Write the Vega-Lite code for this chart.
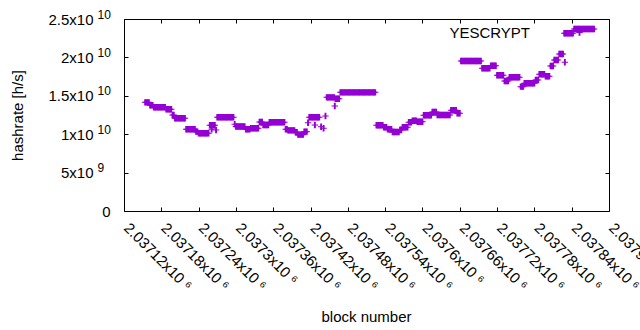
{
 "$schema": "https://vega.github.io/schema/vega-lite/v6.json",
 "width": 485, "height": 192,
 "autosize": {"type": "none"},
 "padding": {"left": 124, "top": 19, "right": 31, "bottom": 119},
 "background": "white",
 "config": {
  "view": {"stroke": "black", "strokeWidth": 1},
  "font": "Liberation Sans",
  "axis": {"domain": false, "grid": false, "tickColor": "black", "tickSize": -4, "tickWidth": 1, "labelColor": "black", "labelFont": "Liberation Sans", "labelFontSize": 15, "titleFont": "Liberation Sans", "titleFontSize": 15, "titleFontWeight": "normal", "titleColor": "black"}
 },
 "data": {"values": "b,h\n2037154,1.415e10\n2037156,1.415e10\n2037158,1.415e10\n2037160,1.415e10\n2037162,1.376e10\n2037164,1.376e10\n2037166,1.376e10\n2037168,1.35e10\n2037170,1.35e10\n2037172,1.35e10\n2037174,1.35e10\n2037176,1.35e10\n2037178,1.35e10\n2037180,1.35e10\n2037182,1.35e10\n2037184,1.35e10\n2037186,1.35e10\n2037188,1.324e10\n2037190,1.324e10\n2037192,1.324e10\n2037194,1.324e10\n2037196,1.324e10\n2037198,1.25e10\n2037200,1.25e10\n2037202,1.207e10\n2037204,1.207e10\n2037206,1.207e10\n2037208,1.207e10\n2037210,1.207e10\n2037212,1.207e10\n2037214,1.207e10\n2037216,1.207e10\n2037218,1.207e10\n2037220,1.064e10\n2037222,1.064e10\n2037224,1.064e10\n2037226,1.064e10\n2037228,1.064e10\n2037230,1.064e10\n2037232,1.064e10\n2037234,1.064e10\n2037236,1.033e10\n2037238,1.033e10\n2037240,1.012e10\n2037242,1.012e10\n2037244,1.012e10\n2037246,1.012e10\n2037248,1.012e10\n2037250,1.012e10\n2037252,1.012e10\n2037254,1.012e10\n2037256,1.012e10\n2037258,1.116e10\n2037260,1.116e10\n2037261,1.064e10\n2037262,1.116e10\n2037264,1.116e10\n2037266,1.116e10\n2037268,1.055e10\n2037270,1.22e10\n2037272,1.22e10\n2037274,1.22e10\n2037276,1.22e10\n2037278,1.22e10\n2037280,1.22e10\n2037282,1.22e10\n2037284,1.22e10\n2037286,1.22e10\n2037288,1.22e10\n2037290,1.22e10\n2037292,1.22e10\n2037294,1.22e10\n2037296,1.22e10\n2037298,1.13e10\n2037300,1.1e10\n2037302,1.1e10\n2037304,1.1e10\n2037306,1.1e10\n2037308,1.1e10\n2037310,1.1e10\n2037312,1.1e10\n2037314,1.1e10\n2037316,1.064e10\n2037318,1.064e10\n2037320,1.064e10\n2037322,1.064e10\n2037324,1.077e10\n2037326,1.077e10\n2037328,1.077e10\n2037330,1.077e10\n2037332,1.077e10\n2037334,1.077e10\n2037336,1.077e10\n2037338,1.159e10\n2037340,1.159e10\n2037342,1.159e10\n2037344,1.12e10\n2037346,1.12e10\n2037348,1.12e10\n2037350,1.12e10\n2037352,1.12e10\n2037354,1.155e10\n2037356,1.155e10\n2037358,1.155e10\n2037360,1.155e10\n2037362,1.155e10\n2037364,1.155e10\n2037366,1.155e10\n2037368,1.155e10\n2037370,1.155e10\n2037372,1.155e10\n2037374,1.155e10\n2037376,1.155e10\n2037378,1.155e10\n2037380,1.064e10\n2037382,1.064e10\n2037384,1.05e10\n2037386,1.05e10\n2037388,1.05e10\n2037390,1.05e10\n2037392,1.05e10\n2037394,1.05e10\n2037396,1.025e10\n2037398,1.025e10\n2037400,9.94e9\n2037402,9.94e9\n2037404,9.94e9\n2037406,9.94e9\n2037408,9.94e9\n2037410,1.033e10\n2037412,1.033e10\n2037414,1.033e10\n2037416,1.15e10\n2037418,1.22e10\n2037420,1.22e10\n2037422,1.22e10\n2037424,1.22e10\n2037426,1.22e10\n2037427,1.12e10\n2037428,1.22e10\n2037430,1.22e10\n2037432,1.22e10\n2037434,1.22e10\n2037437,1.098e10\n2037441,1.077e10\n2037444,1.237e10\n2037446,1.48e10\n2037448,1.48e10\n2037450,1.48e10\n2037452,1.48e10\n2037454,1.48e10\n2037456,1.48e10\n2037458,1.48e10\n2037459,1.367e10\n2037460,1.462e10\n2037462,1.462e10\n2037464,1.462e10\n2037466,1.462e10\n2037468,1.545e10\n2037470,1.545e10\n2037472,1.545e10\n2037474,1.545e10\n2037476,1.545e10\n2037478,1.545e10\n2037480,1.545e10\n2037482,1.545e10\n2037484,1.545e10\n2037486,1.545e10\n2037488,1.545e10\n2037490,1.545e10\n2037492,1.545e10\n2037494,1.545e10\n2037496,1.545e10\n2037498,1.545e10\n2037500,1.545e10\n2037502,1.545e10\n2037504,1.545e10\n2037506,1.545e10\n2037508,1.545e10\n2037510,1.545e10\n2037512,1.545e10\n2037514,1.545e10\n2037516,1.545e10\n2037518,1.545e10\n2037520,1.545e10\n2037522,1.545e10\n2037524,1.545e10\n2037526,1.116e10\n2037528,1.116e10\n2037530,1.116e10\n2037532,1.116e10\n2037534,1.116e10\n2037536,1.116e10\n2037538,1.09e10\n2037540,1.09e10\n2037542,1.09e10\n2037544,1.064e10\n2037546,1.064e10\n2037548,1.064e10\n2037550,1.064e10\n2037552,1.029e10\n2037554,1.029e10\n2037556,1.029e10\n2037558,1.029e10\n2037560,1.029e10\n2037562,1.029e10\n2037564,1.055e10\n2037566,1.055e10\n2037568,1.09e10\n2037570,1.09e10\n2037572,1.09e10\n2037574,1.09e10\n2037576,1.09e10\n2037578,1.155e10\n2037580,1.155e10\n2037582,1.155e10\n2037584,1.176e10\n2037586,1.176e10\n2037588,1.176e10\n2037590,1.176e10\n2037592,1.163e10\n2037594,1.163e10\n2037596,1.163e10\n2037598,1.163e10\n2037600,1.163e10\n2037602,1.246e10\n2037604,1.246e10\n2037606,1.246e10\n2037608,1.246e10\n2037610,1.246e10\n2037612,1.246e10\n2037614,1.246e10\n2037616,1.289e10\n2037618,1.289e10\n2037620,1.289e10\n2037622,1.289e10\n2037624,1.25e10\n2037626,1.25e10\n2037628,1.25e10\n2037630,1.25e10\n2037632,1.25e10\n2037634,1.25e10\n2037636,1.25e10\n2037638,1.25e10\n2037640,1.25e10\n2037642,1.25e10\n2037644,1.25e10\n2037646,1.311e10\n2037648,1.311e10\n2037650,1.311e10\n2037652,1.311e10\n2037654,1.311e10\n2037656,1.272e10\n2037658,1.272e10\n2037660,1.272e10\n2037662,1.953e10\n2037664,1.953e10\n2037666,1.953e10\n2037668,1.953e10\n2037670,1.953e10\n2037672,1.953e10\n2037674,1.953e10\n2037676,1.953e10\n2037678,1.953e10\n2037680,1.953e10\n2037682,1.953e10\n2037684,1.953e10\n2037686,1.953e10\n2037688,1.953e10\n2037690,1.953e10\n2037692,1.953e10\n2037694,1.953e10\n2037696,1.858e10\n2037698,1.858e10\n2037700,1.858e10\n2037702,1.858e10\n2037704,1.858e10\n2037706,1.858e10\n2037708,1.858e10\n2037710,1.892e10\n2037712,1.892e10\n2037714,1.892e10\n2037716,1.892e10\n2037718,1.892e10\n2037720,1.767e10\n2037722,1.767e10\n2037724,1.767e10\n2037726,1.767e10\n2037728,1.767e10\n2037730,1.767e10\n2037732,1.693e10\n2037734,1.693e10\n2037736,1.693e10\n2037738,1.693e10\n2037740,1.741e10\n2037742,1.741e10\n2037744,1.741e10\n2037746,1.741e10\n2037748,1.741e10\n2037750,1.741e10\n2037752,1.741e10\n2037754,1.741e10\n2037756,1.741e10\n2037758,1.619e10\n2037760,1.619e10\n2037762,1.619e10\n2037764,1.663e10\n2037766,1.663e10\n2037768,1.663e10\n2037770,1.663e10\n2037772,1.663e10\n2037774,1.663e10\n2037776,1.663e10\n2037778,1.663e10\n2037780,1.663e10\n2037782,1.706e10\n2037784,1.706e10\n2037786,1.706e10\n2037788,1.78e10\n2037790,1.78e10\n2037792,1.78e10\n2037794,1.78e10\n2037796,1.78e10\n2037798,1.754e10\n2037800,1.754e10\n2037802,1.754e10\n2037804,1.754e10\n2037806,1.888e10\n2037808,1.888e10\n2037810,1.888e10\n2037812,1.966e10\n2037814,1.966e10\n2037816,1.966e10\n2037818,1.966e10\n2037820,2.044e10\n2037822,2.044e10\n2037824,2.044e10\n2037826,2.044e10\n2037828,2.314e10\n2037829,1.936e10\n2037830,2.314e10\n2037832,2.314e10\n2037834,2.314e10\n2037836,2.314e10\n2037838,2.314e10\n2037840,2.314e10\n2037842,2.314e10\n2037844,2.37e10\n2037846,2.37e10\n2037848,2.37e10\n2037850,2.37e10\n2037852,2.37e10\n2037854,2.37e10\n2037856,2.37e10\n2037858,2.37e10\n2037860,2.37e10\n2037862,2.37e10\n2037864,2.37e10\n2037866,2.37e10\n2037868,2.37e10\n2037870,2.37e10\n2037872,2.37e10\n2037874,2.37e10\n2037876,2.37e10", "format": {"type": "csv", "parse": {"b": "number", "h": "number"}}},
 "layer": [
  {
   "mark": {"type": "point", "shape": "M-1,-0.156H1V0.156H-1ZM-0.3,-1H0.3V1H-0.3Z", "filled": true, "size": 41, "opacity": 1, "fillOpacity": 1, "strokeWidth": 0},
   "encoding": {
    "x": {"field": "b", "type": "quantitative", "scale": {"domain": [2037120, 2037900], "zero": false, "nice": false},
     "axis": {"orient": "bottom", "values": [2037120, 2037180, 2037240, 2037300, 2037360, 2037420, 2037480, 2037540, 2037600, 2037660, 2037720, 2037780, 2037840, 2037900], "labelExpr": "format(datum.value/1e6, '.6~g') + 'x10 ⁶'", "labelAngle": 45, "labelAlign": "left", "labelBaseline": "top", "labelPadding": 13, "labelOffset": 7, "labelOverlap": false, "labelFlush": false, "title": "block number", "titleX": 242, "titleY": 105, "titleBaseline": "middle", "titleAlign": "center"}},
    "y": {"field": "h", "type": "quantitative", "scale": {"domain": [0, 25000000000], "nice": false, "zero": true},
     "axis": {"orient": "left", "values": [0, 5000000000, 10000000000, 15000000000, 20000000000, 25000000000], "labelExpr": "datum.value == 0 ? '' : datum.value == 5e9 ? '5x10' : (format(datum.value/1e10, '~g') + 'x10')", "labelPadding": 35, "labelOverlap": false, "labelFlush": false, "title": "hashrate [h/s]", "titleX": -107, "titleY": 96, "titleAngle": -90, "titleAlign": "center", "titleBaseline": "middle"}},
    "color": {"datum": "YESCRYPT", "type": "nominal", "scale": {"range": ["#9400d3"]},
     "legend": {"title": null, "orient": "none", "legendX": 448, "legendY": 6, "padding": 0, "symbolType": "M-1,-0.156H1V0.156H-1ZM-0.3,-1H0.3V1H-0.3Z", "symbolSize": 41, "symbolStrokeWidth": 0, "labelFont": "Liberation Sans", "labelFontSize": 15, "labelColor": "black", "labelAlign": "right", "labelOffset": -57}}
   }
  },
  {
   "mark": {"type": "point", "opacity": 0},
   "encoding": {
    "x": {"field": "b", "type": "quantitative", "axis": {"orient": "top", "values": [2037120, 2037180, 2037240, 2037300, 2037360, 2037420, 2037480, 2037540, 2037600, 2037660, 2037720, 2037780, 2037840, 2037900], "labels": false, "title": null}},
    "y": {"field": "h", "type": "quantitative", "axis": {"orient": "right", "values": [0, 5000000000, 10000000000, 15000000000, 20000000000, 25000000000], "labels": false, "title": null}}
   }
  },
  {
   "mark": {"type": "point", "opacity": 0},
   "encoding": {
    "x": {"field": "b", "type": "quantitative", "axis": null},
    "y": {"field": "h", "type": "quantitative", "axis": {"orient": "left", "values": [5000000000, 10000000000, 15000000000, 20000000000, 25000000000], "labelExpr": "datum.value == 5e9 ? '9' : '10'", "labelAlign": "left", "labelPadding": 27, "tickSize": 0, "labelFontSize": 12, "labelOffset": -5, "labelOverlap": false, "labelFlush": false, "title": null}}
   }
  },
  {
   "mark": {"type": "point", "opacity": 0},
   "encoding": {
    "x": {"field": "b", "type": "quantitative", "axis": null},
    "y": {"field": "h", "type": "quantitative", "axis": {"orient": "left", "values": [0], "labelExpr": "'0'", "labelPadding": 14, "tickSize": 0, "labelOverlap": false, "labelFlush": false, "title": null}}
   }
  }
 ],
 "resolve": {"axis": {"x": "independent", "y": "independent"}}
}
